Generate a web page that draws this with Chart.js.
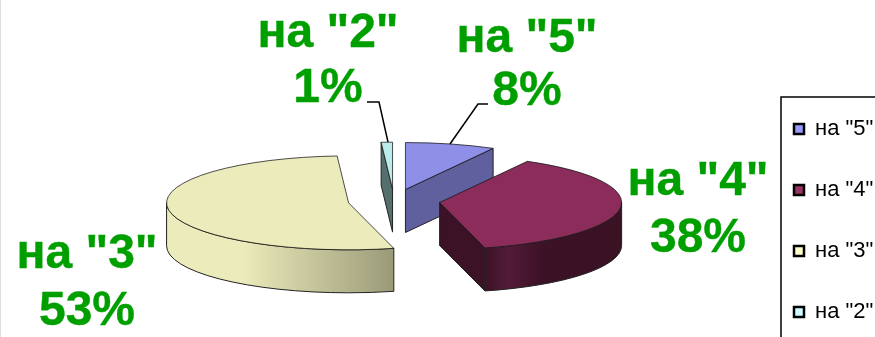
<!DOCTYPE html>
<html>
<head>
    <title>Оценки</title>
    <script src="https://cdn.jsdelivr.net/npm/chart.js"></script>
    <style>
        html, body { margin: 0; padding: 0; background: #fff; overflow: hidden; }
        canvas { display: block; }
    </style>
</head>
<body>
<canvas id="gradeChart" width="875" height="337"></canvas>

<script>
    const categories = ['на "5"', 'на "4"', 'на "3"', 'на "2"'];
    const values = [8, 38, 53, 1];

    const topColors = ['#8f8fe8', '#8b2c5a', '#ecebbb', '#bbebeb'];
    const sideColors = ['#60609f', '#3c1226', '#ecebbb', '#556f6f'];
    const legendColors = ['#9999ff', '#993366', '#ffffcc', '#ccffff'];

    // label baselines: [x, line 1 y, line 2 y]
    const labelSpots = [[527, 52, 105], [698, 195, 252], [87, 268, 325], [328, 47, 102]];
    const leaders = {
        0: [[450, 144], [478, 104], [488, 104]],
        3: [[388, 142], [379, 102], [367, 102]]
    };

    // fake 3D: the pie is squashed and every slice pulled out from the centre
    const pieX = 394, pieY = 201, squash = 0.258, explode = 46, depth = 43;
    const drawOrder = [0, 3, 2, 1];

    function apex(arc) {
        const mid = (arc.startAngle + arc.endAngle) / 2;
        return {
            x: pieX + Math.cos(mid) * explode,
            y: pieY + Math.sin(mid) * explode * squash
        };
    }

    function sideFill(ctx, i, a) {
        if (i === 2) {
            const g = ctx.createLinearGradient(167, 0, 394, 0);
            g.addColorStop(0, '#ecebbb');
            g.addColorStop(0.33, '#ecebbb');
            g.addColorStop(1, '#9a9a78');
            return g;
        }
        if (i === 1) {
            const g = ctx.createLinearGradient(484, 0, 622, 0);
            g.addColorStop(0, '#3c1226');
            g.addColorStop(0.18, '#531b38');
            g.addColorStop(0.42, '#3c1226');
            g.addColorStop(1, '#3a1224');
            return g;
        }
        return sideColors[i];
    }

    function drawSides(ctx, arc, i) {
        const a = apex(arc);
        const r = arc.outerRadius, ry = r * squash;
        ctx.lineWidth = 1;
        ctx.strokeStyle = '#222';

        // cut faces
        [[arc.startAngle, -1], [arc.endAngle, 1]].forEach(([ang, dir]) => {
            if (Math.cos(ang) * dir <= 1e-6) return;
            const ex = a.x + Math.cos(ang) * r, ey = a.y + Math.sin(ang) * ry;
            ctx.beginPath();
            ctx.moveTo(a.x, a.y);
            ctx.lineTo(ex, ey);
            ctx.lineTo(ex, ey + depth);
            ctx.lineTo(a.x, a.y + depth);
            ctx.closePath();
            ctx.fillStyle = i === 2 ? '#9a9a78' : sideColors[i];
            ctx.fill();
            ctx.stroke();
        });

        // outer wall, front half only
        const from = Math.max(arc.startAngle, 0), to = Math.min(arc.endAngle, Math.PI);
        if (to > from) {
            ctx.beginPath();
            ctx.ellipse(a.x, a.y, r, ry, 0, from, to);
            ctx.ellipse(a.x, a.y + depth, r, ry, 0, to, from, true);
            ctx.closePath();
            ctx.fillStyle = sideFill(ctx, i, a);
            ctx.fill();
            ctx.stroke();
        }
    }

    function drawTop(ctx, arc) {
        const a = apex(arc);
        const r = arc.outerRadius;
        ctx.save();
        ctx.translate(a.x, a.y);
        ctx.scale(1, squash);
        ctx.translate(-arc.x, -arc.y);
        arc.draw(ctx);
        ctx.restore();

        ctx.beginPath();
        ctx.moveTo(a.x, a.y);
        ctx.ellipse(a.x, a.y, r, r * squash, 0, arc.startAngle, arc.endAngle);
        ctx.closePath();
        ctx.lineWidth = 1;
        ctx.strokeStyle = 'rgba(20,20,20,0.75)';
        ctx.stroke();
    }

    const pie3d = {
        id: 'pie3d',
        afterLayout(chart) {
            // legend sits in its own frame at the right edge
            const legend = chart.legend;
            legend.left = 755;
            legend.right = 960;
            legend.top = 79;
            legend.bottom = 420;
        },
        beforeDatasetDraw(chart) {
            const ctx = chart.ctx;
            const arcs = chart.getDatasetMeta(0).data;
            ctx.save();
            drawOrder.forEach(i => drawSides(ctx, arcs[i], i));
            drawOrder.forEach(i => drawTop(ctx, arcs[i]));
            ctx.restore();
            return false;
        },
        afterDatasetsDraw(chart) {
            const ctx = chart.ctx;
            ctx.save();

            // faint edge of the original slide
            ctx.strokeStyle = '#dedede';
            ctx.lineWidth = 1;
            ctx.beginPath();
            ctx.moveTo(0.5, 0);
            ctx.lineTo(0.5, 337);
            ctx.stroke();

            ctx.strokeStyle = '#000';
            ctx.lineWidth = 1.5;
            Object.values(leaders).forEach(pts => {
                ctx.beginPath();
                pts.forEach(([x, y], n) => n ? ctx.lineTo(x, y) : ctx.moveTo(x, y));
                ctx.stroke();
            });

            ctx.fillStyle = '#009f00';
            ctx.strokeStyle = '#009f00';
            ctx.lineWidth = 0.4;
            ctx.font = 'bold 48px "Liberation Sans"';
            ctx.textAlign = 'center';
            ctx.textBaseline = 'alphabetic';
            categories.forEach((name, i) => {
                const [x, y1, y2] = labelSpots[i];
                [[name, y1], [values[i] + '%', y2]].forEach(([text, y]) => {
                    ctx.fillText(text, x, y);
                    ctx.strokeText(text, x, y);
                });
            });

            // legend frame
            ctx.strokeStyle = '#000';
            ctx.lineWidth = 1.5;
            ctx.beginPath();
            ctx.moveTo(781, 340);
            ctx.lineTo(781, 97);
            ctx.lineTo(878, 97);
            ctx.stroke();
            ctx.restore();
        }
    };

    new Chart(document.getElementById('gradeChart'), {
        type: 'pie',
        data: {
            labels: categories,
            datasets: [{
                data: values,
                backgroundColor: topColors,
                borderWidth: 0
            }]
        },
        options: {
            responsive: false,
            animation: false,
            radius: 182,
            events: [],
            plugins: {
                tooltip: { enabled: false },
                legend: {
                    position: 'right',
                    align: 'start',
                    labels: {
                        boxWidth: 10,
                        boxHeight: 10,
                        padding: 39,
                        color: '#000',
                        font: { family: '"Liberation Sans"', size: 22 },
                        generateLabels: () => categories.map((text, i) => ({
                            text,
                            index: i,
                            fillStyle: legendColors[i],
                            strokeStyle: '#000',
                            lineWidth: 2.5
                        }))
                    }
                }
            }
        },
        plugins: [pie3d]
    });
</script>
</body>
</html>
